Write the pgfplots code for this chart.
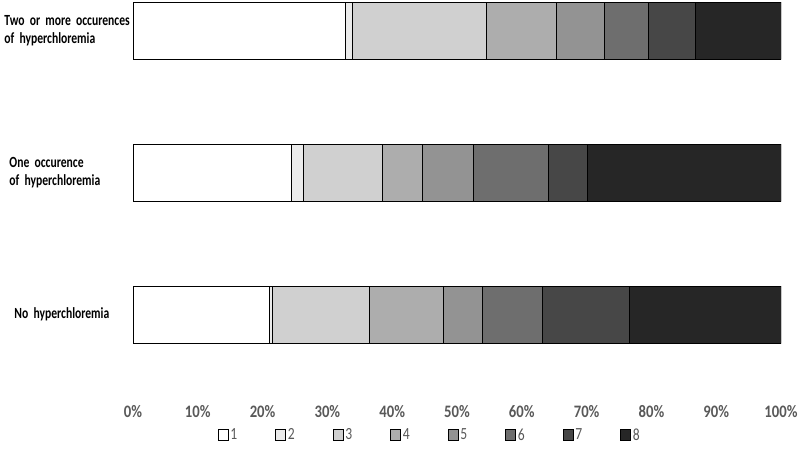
\documentclass[border=0pt]{standalone}
\usepackage{fontspec}
\usepackage{graphicx}
\setmainfont{Carlito}[FakeStretch=0.75, WordSpace=0.8]
\newfontfamily\tickfont{Carlito}[FakeStretch=0.84, Numbers=Lining]
\newfontfamily\legfont{Carlito}[FakeStretch=0.8, Numbers=Lining]
\newcommand{\legtxt}[1]{\scalebox{1.7}{\legfont\normalsize #1}}
\usepackage{pgfplots}
\pgfplotsset{compat=1.18}

\definecolor{c1}{HTML}{FFFFFF}
\definecolor{c2}{HTML}{EBEBEB}
\definecolor{c3}{HTML}{D0D0D0}
\definecolor{c4}{HTML}{ADADAD}
\definecolor{c5}{HTML}{939393}
\definecolor{c6}{HTML}{6E6E6E}
\definecolor{c7}{HTML}{474747}
\definecolor{c8}{HTML}{262626}
\definecolor{txt}{HTML}{595959}

\begin{document}
\begin{tikzpicture}
\path[use as bounding box] (0,0) rectangle (800pt,448pt);
\begin{axis}[
    at={(133pt,105pt)}, anchor=south west,
    scale only axis,
    width=648pt, height=341pt,
    xbar stacked,
    bar width=57pt,
    xmin=0, xmax=100,
    ymin=-0.2, ymax=2.2,
    axis line style={draw=none},
    tick style={draw=none},
    xtick={0,10,...,100},
    xticklabels={0\%,10\%,20\%,30\%,40\%,50\%,60\%,70\%,80\%,90\%,100\%},
    xticklabel style={yshift=-59pt, text=txt, font=\tickfont\bfseries\fontsize{17.5}{19}\selectfont},
    ytick={0,1,2},
    yticklabels={
        \hspace*{10pt}No hyperchloremia,
        \hspace*{5pt}One occurence\\\hspace*{5pt}of hyperchloremia,
        \mbox{Two or more occurences}\\of hyperchloremia},
    yticklabel style={text width=127pt, align=left, xshift=2pt, font=\bfseries\fontsize{15.5}{18}\selectfont},
    every axis plot/.append style={draw=black, line width=0.6pt},
    legend columns=8,
    legend style={
        at={(0.458,-0.27)}, anchor=center,
        draw=none, fill=none, text=txt,
        /tikz/every even column/.append style={column sep=36pt},
    },
    legend image code/.code={
        \draw[#1, draw=black, line width=0.6pt] (0pt,-5pt) rectangle (10pt,6pt);
    },
]
\addplot[fill=c1] coordinates {(21.1,0) (24.4,1) (32.8,2)};
\addlegendentry{\legtxt{1}}
\addplot[fill=c2] coordinates {(0.4,0) (1.9,1) (1.0,2)};
\addlegendentry{\legtxt{2}}
\addplot[fill=c3] coordinates {(15.0,0) (12.2,1) (20.7,2)};
\addlegendentry{\legtxt{3}}
\addplot[fill=c4] coordinates {(11.4,0) (6.1,1) (10.9,2)};
\addlegendentry{\legtxt{4}}
\addplot[fill=c5] coordinates {(6.0,0) (7.9,1) (7.3,2)};
\addlegendentry{\legtxt{5}}
\addplot[fill=c6] coordinates {(9.3,0) (11.6,1) (6.8,2)};
\addlegendentry{\legtxt{6}}
\addplot[fill=c7] coordinates {(13.4,0) (6.0,1) (7.2,2)};
\addlegendentry{\legtxt{7}}
\addplot[fill=c8] coordinates {(23.4,0) (29.9,1) (13.3,2)};
\addlegendentry{\legtxt{8}}
\end{axis}
\end{tikzpicture}
\end{document}
